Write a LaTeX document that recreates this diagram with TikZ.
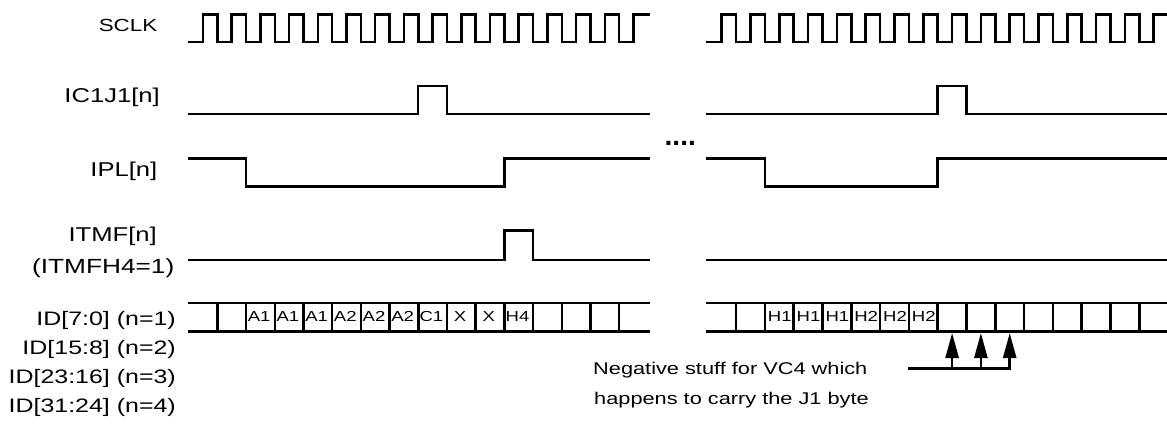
\documentclass[tikz,border=0pt]{standalone}
\usepackage{fontspec}
\setmainfont{Liberation Sans}
\newfontfamily\wide[FakeStretch=1.28]{Liberation Sans}
\usetikzlibrary{arrows.meta}
\begin{document}
\begin{tikzpicture}[x=1pt,y=-1pt,
  sig/.style={line width=2.5pt,line join=miter},
  lbl/.style={inner sep=0pt,anchor=base east,font=\wide\fontsize{20}{24}\selectfont},
  idlbl/.style={inner sep=0pt,anchor=base east,font=\wide\fontsize{19.5}{23}\selectfont},
  cellt/.style={inner sep=0pt,anchor=base,font=\wide\fontsize{14.5}{16}\selectfont},
  note/.style={inner sep=0pt,anchor=base west,font=\wide\fontsize{17}{21}\selectfont},
  stuff/.style={line width=2.5pt,-{Triangle[length=25pt,width=13pt]}}
]
\useasboundingbox (0,0) rectangle (1167,433);

% labels
\node[inner sep=0pt,anchor=base east,font=\wide\fontsize{17.5}{21}\selectfont] (lsclk) at (157.5,32) {SCLK};
\node[lbl] (lic) at (160,103) {IC1J1[n]};
\node[lbl] (lipl) at (157.5,176.5) {IPL[n]};
\node[lbl] (litmf) at (157,241.5) {ITMF[n]};
\node[inner sep=0pt,anchor=base east,font=\wide\fontsize{20.5}{24}\selectfont] (litmfh) at (174.5,273) {(ITMFH4=1)};
\node[idlbl] (lid1) at (176,325) {ID[7:0] (n=1)};
\node[idlbl] (lid2) at (176,354) {ID[15:8] (n=2)};
\node[idlbl] (lid3) at (176,383) {ID[23:16] (n=3)};
\node[idlbl] (lid4) at (176,412) {ID[31:24] (n=4)};

% SCLK left
\draw[sig] (188,42) \foreach \k in {0,...,14}{ -- ({203+28.7*\k},42) -- ({203+28.7*\k},14.5) -- ({217.35+28.7*\k},14.5) -- ({217.35+28.7*\k},42)} -- (633.5,42) -- (633.5,14.5) -- (650,14.5);
% SCLK right
\draw[sig] (706,42) \foreach \k in {0,...,14}{ -- ({721.7+28.8*\k},42) -- ({721.7+28.8*\k},14.5) -- ({736.1+28.8*\k},14.5) -- ({736.1+28.8*\k},42)} -- (1153.7,42) -- (1153.7,14.5) -- (1167,14.5);

% IC1J1
\draw[sig] (188,114) -- (418.2,114) -- (418.2,86) -- (447,86) -- (447,114) -- (650,114);
\draw[sig] (706,114) -- (937.7,114) -- (937.7,86) -- (966.5,86) -- (966.5,114) -- (1167,114);

% IPL
\draw[sig] (188,158.7) -- (246,158.7) -- (246,186.7) -- (504.3,186.7) -- (504.3,158.7) -- (650,158.7);
\draw[sig] (706,158.7) -- (764.9,158.7) -- (764.9,186.7) -- (937.7,186.7) -- (937.7,158.7) -- (1167,158.7);

% ITMF
\draw[sig] (188,260) -- (504.3,260) -- (504.3,230.7) -- (533,230.7) -- (533,260) -- (650,260);
\draw[sig] (706,260) -- (1167,260);

% dots
\node[inner sep=0pt,anchor=base west,font=\bfseries\fontsize{28}{30}\selectfont] (dots) at (664.5,145.5) {....};

% ID rows
\draw[sig] (188,303.2) -- (650,303.2);
\draw[sig] (188,331.5) -- (650,331.5);
\foreach \k in {0,...,14} \draw[sig] ({217.35+28.7*\k},303.2) -- ({217.35+28.7*\k},331.5);
\draw[sig] (706,303.2) -- (1167,303.2);
\draw[sig] (706,331.5) -- (1167,331.5);
\foreach \k in {0,...,14} \draw[sig] ({736.1+28.8*\k},303.2) -- ({736.1+28.8*\k},331.5);

\foreach \i/\t in {1/A1,2/A1,3/A1,4/A2,5/A2,6/A2,7/C1,8/X,9/X,10/H4}
  \node[cellt] (cl\i) at ({230.5+28.7*\i},321) {\t};
\foreach \i/\t in {1/H1,2/H1,3/H1,4/H2,5/H2,6/H2}
  \node[cellt] (cr\i) at ({751+28.8*\i},321) {\t};

% note and arrows
\node[note] (neg1) at (593,374) {Negative stuff for VC4 which};
\node[note] (neg2) at (594,404) {happens to carry the J1 byte};
\coordinate (t1) at (952.1,333);
\coordinate (t2) at (980.9,333);
\coordinate (t3) at (1009.7,333);
\coordinate (hs) at (908.3,368.3);
\draw[stuff] (hs) -| (t3);
\draw[stuff] (t1 |- hs) -- (t1);
\draw[stuff] (t2 |- hs) -- (t2);
\end{tikzpicture}
\end{document}
